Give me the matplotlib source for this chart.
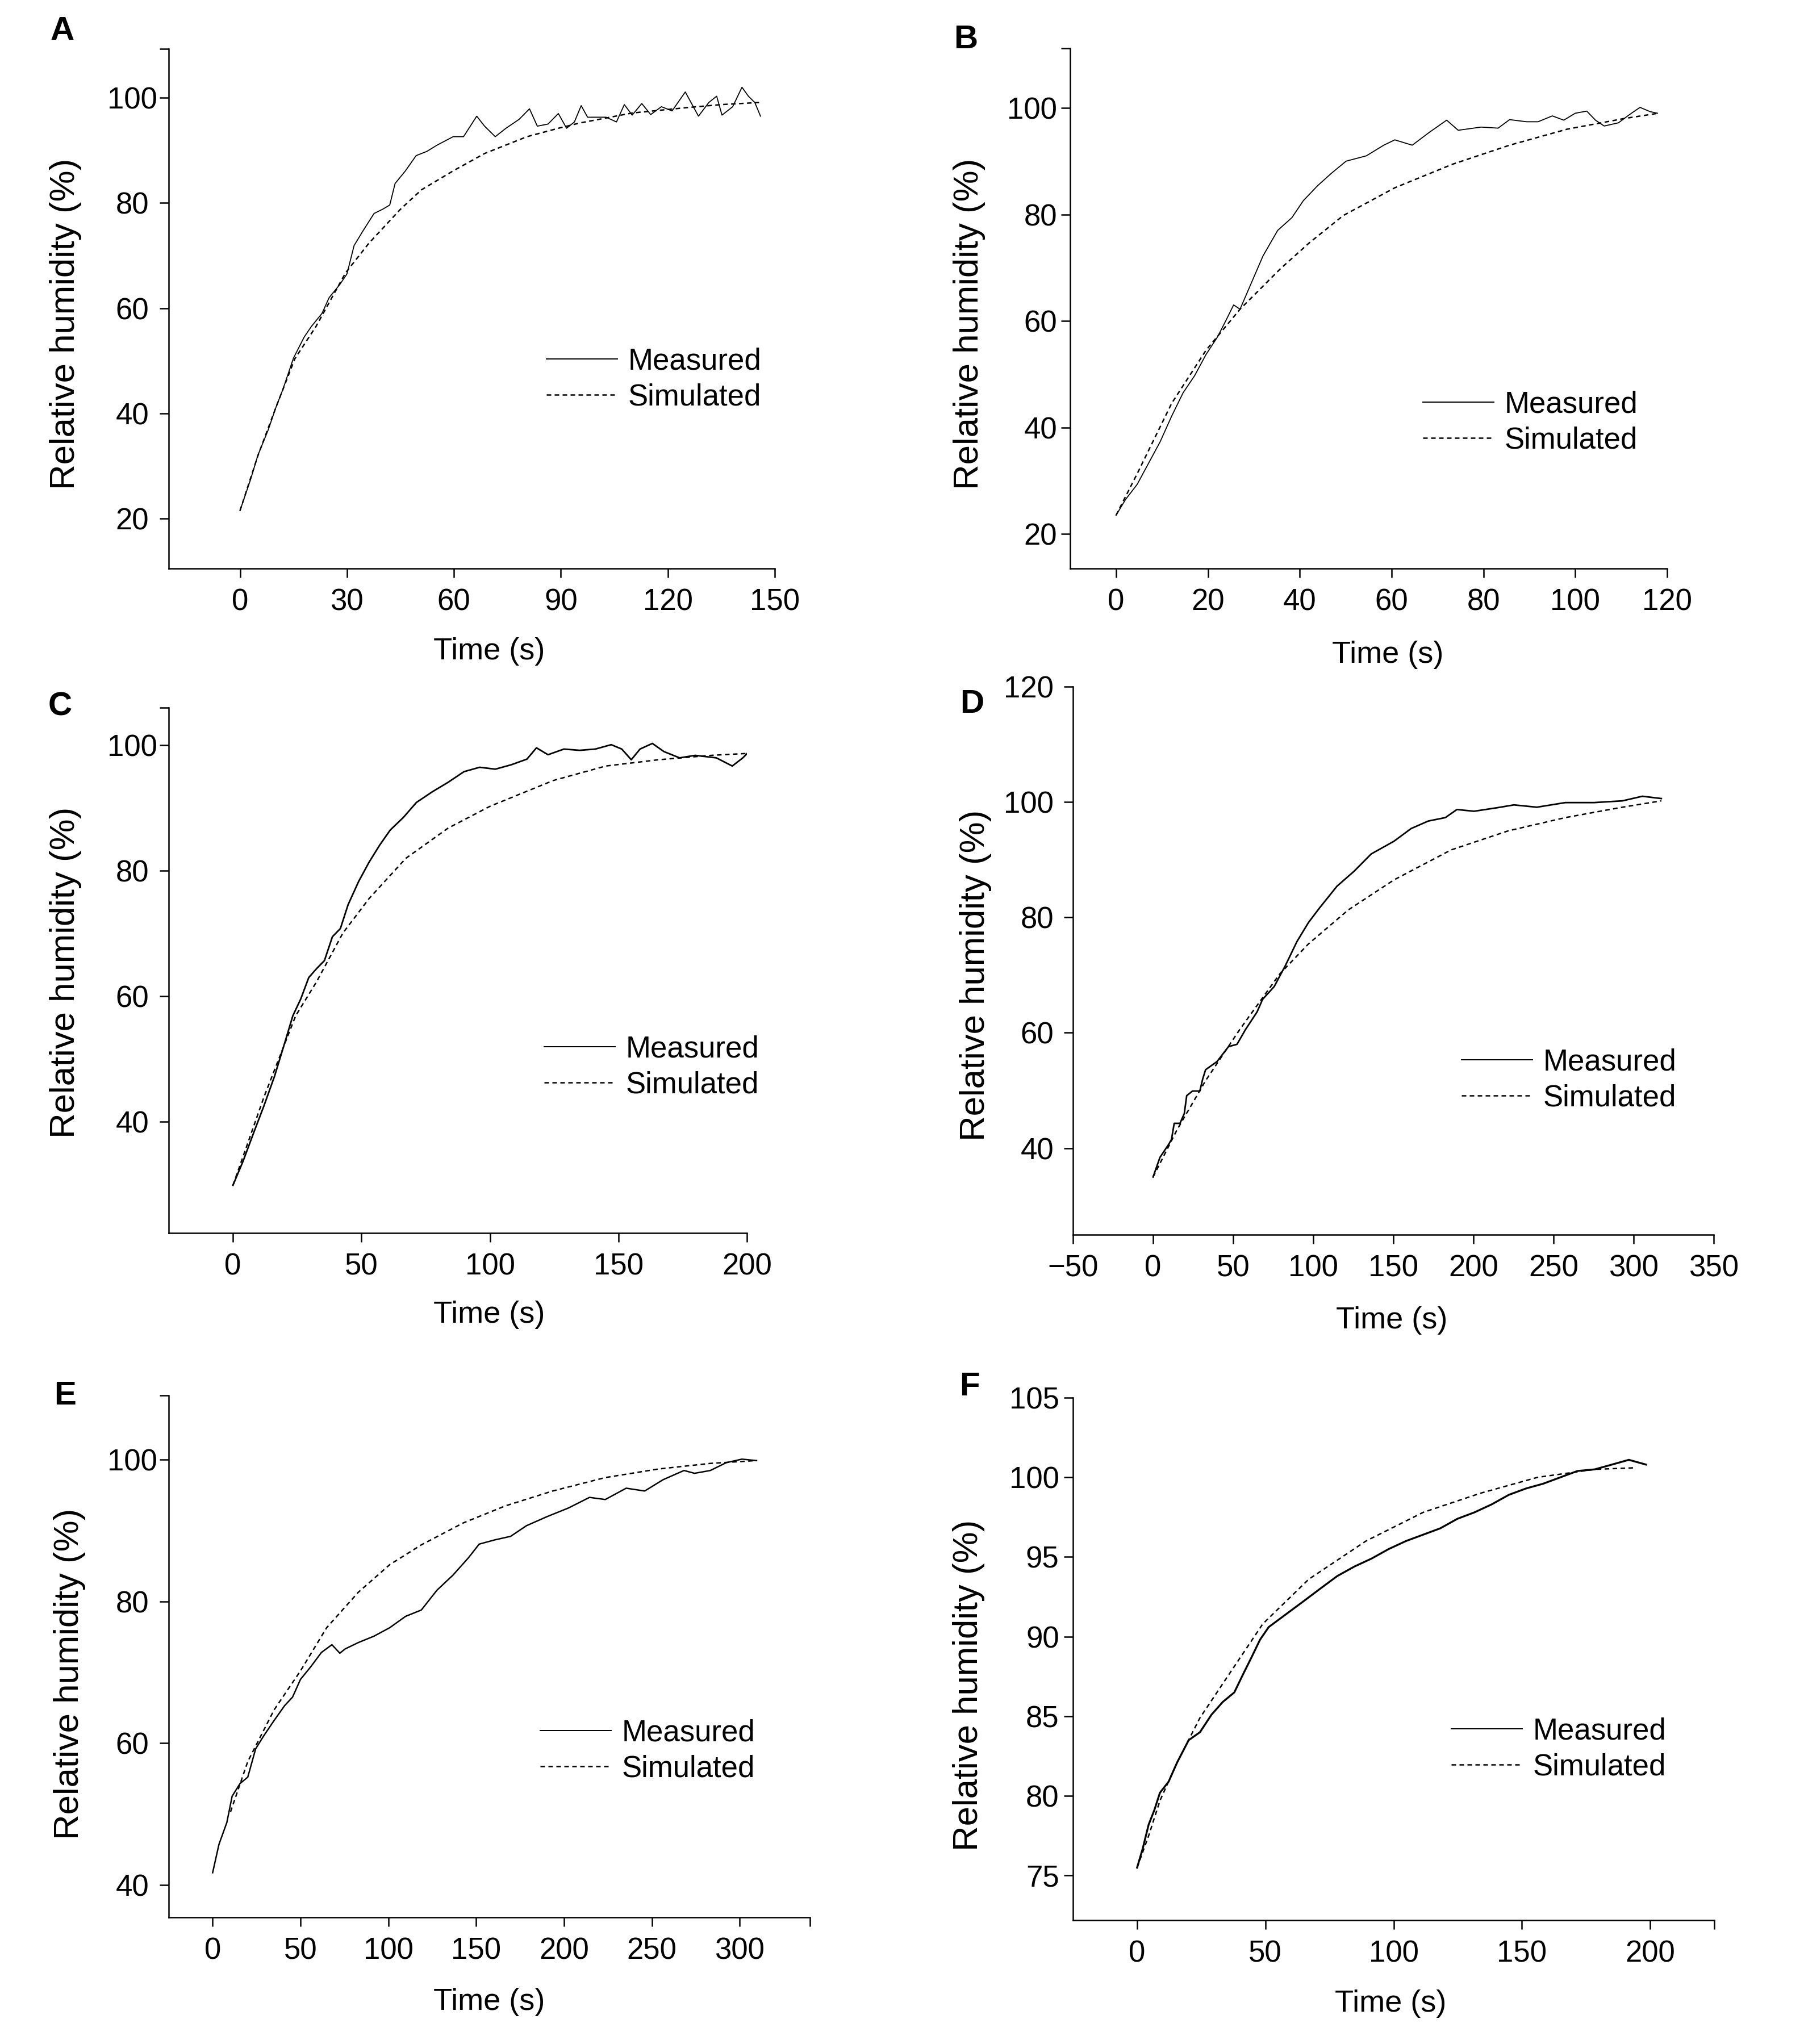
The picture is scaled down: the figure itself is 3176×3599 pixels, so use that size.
import matplotlib
matplotlib.use("Agg")
import matplotlib.pyplot as plt
from matplotlib.lines import Line2D

plt.rcParams['font.family'] = ['Liberation Sans', 'DejaVu Sans']

W, H = 3176, 3599
DPI = 100

# ---- panel A ----
t_a_meas = [0, 3, 5, 8, 10, 12, 15, 18, 20, 23, 25, 28, 30, 32, 34.6, 37.6, 40, 42,
            43.5, 46.4, 49.4, 52.4, 55.3, 59.8, 62.7, 66.4, 68.6, 71.6, 74.6, 78.3,
            81.2, 83.4, 86.4, 89.3, 91.6, 93.8, 95.7, 97.5, 102.7, 105.6, 107.8, 110,
            112.7, 115.2, 118.2, 121.2, 124.9, 128.6, 131.5, 133.7, 135.2, 138.2,
            140.8, 142.6, 144.4, 146]
rh_a_meas = [21.5, 27.5, 32, 37, 41, 44.5, 50.5, 54.5, 56.5, 59, 62, 64.5, 66.5, 71.9,
             74.8, 78, 78.8, 79.6, 83.7, 86.1, 89, 89.8, 91, 92.6, 92.6, 96.5, 94.6,
             92.6, 94.2, 95.9, 97.9, 94.6, 95, 97, 94.2, 95.4, 98.5, 96.3, 96.3, 95.4,
             98.7, 96.7, 98.9, 96.8, 98.3, 97.5, 101.1, 96.5, 99.1, 100.3, 96.7, 98.3,
             102, 100.3, 99.1, 96.5]
t_a_sim = [0, 5, 10, 15.4, 21.3, 29.6, 36.1, 45, 50.9, 59.8, 68.6, 80.5, 89.3, 95.3,
           110, 124.9, 135, 145.6]
rh_a_sim = [21.5, 31.9, 41, 50.4, 56.5, 66.7, 72.3, 78.8, 82.5, 86.1, 89.4, 92.6, 94.2,
            95.2, 97.1, 98.1, 98.7, 99.1]

# ---- panel B ----
t_b_meas = [0, 2.1, 4.6, 7.1, 9.6, 12.1, 14.6, 17.1, 19.6, 22.1, 24, 25.6, 27, 29.6,
            32, 35.2, 38.3, 40.8, 43.9, 47, 50.1, 54.5, 58.3, 60.7, 64.5, 68.2, 72,
            74.5, 79.5, 83.2, 85.7, 89.4, 91.9, 95, 97.5, 100, 102.5, 104.4, 106.3,
            109.4, 111.9, 114.1, 116.3, 117.9]
rh_b_meas = [23.5, 26.5, 29.3, 33.3, 37.3, 42.1, 46.5, 49.7, 53.7, 57, 60.2, 63, 62.2,
             67.4, 72.2, 77, 79.4, 82.6, 85.4, 87.8, 90, 91, 93, 94, 93, 95.4, 97.7,
             95.8, 96.4, 96.2, 97.8, 97.4, 97.4, 98.5, 97.7, 99, 99.4, 97.7, 96.6,
             97.2, 98.8, 100.1, 99.3, 99]
t_b_sim = [0, 4.6, 12.1, 19.6, 27, 35.8, 42, 49.5, 60.7, 73.2, 85.7, 98.2, 110.6, 118.1]
rh_b_sim = [23.5, 31.3, 44.5, 54.5, 62.2, 69.8, 74.6, 79.8, 85, 89.4, 93, 96, 98, 99]

# ---- panel C ----
t_c_meas = [0, 3.9, 8, 12.1, 16.2, 20.3, 23.3, 26.4, 29.5, 32.5, 35.6, 38.7, 41.8,
            44.8, 48.9, 53, 57.1, 61.2, 66.3, 71.4, 77.6, 83.7, 89.9, 96, 102.1, 108.3,
            114.4, 118.1, 122.6, 128.8, 134.9, 141, 147.2, 151.3, 155, 158.4, 163.2,
            167.7, 173.8, 179.9, 188.1, 194.3, 198.4, 202.5, 205.2]
rh_c_meas = [29.9, 33.7, 38.2, 42.6, 47.3, 52.8, 56.9, 59.6, 63, 64.4, 65.7, 69.5, 70.8,
             74.6, 78.3, 81.4, 84.1, 86.5, 88.5, 90.9, 92.6, 94.1, 95.8, 96.5, 96.2,
             96.9, 97.8, 99.6, 98.5, 99.4, 99.2, 99.4, 100.1, 99.4, 97.7, 99.4, 100.3,
             99, 98, 98.4, 98, 96.7, 98, 99.7, 98.9]
t_c_sim = [0, 12.1, 24.4, 32.5, 42.8, 53, 67.3, 83.7, 100.1, 124.7, 145.1, 165.6, 186.1,
           204.5]
rh_c_sim = [29.9, 44, 56.9, 62.3, 70.1, 75.6, 82, 86.8, 90.3, 94.4, 96.7, 97.7, 98.4,
            98.8]

# ---- panel D ----
t_d_meas = [0, 4.3, 9.6, 11.5, 13.2, 16.8, 19.5, 21, 24.6, 29.2, 31, 32.8, 39.9, 47.1,
            52.4, 57.8, 64.9, 68.4, 75.6, 82.7, 89.8, 97, 104.1, 114.8, 125.5, 136.2,
            150.4, 161.1, 171.8, 182.5, 189.7, 200.4, 214.6, 225.3, 239.6, 257.4,
            275.2, 293, 305.5, 317.3]
rh_d_meas = [35, 38.4, 40.6, 41.5, 44.3, 44.3, 46, 49.1, 49.9, 49.9, 52, 53.6, 55, 57.6,
             58, 60.6, 63.6, 65.8, 68, 71.7, 75.8, 79.1, 81.7, 85.4, 88, 91, 93.2, 95.4,
             96.7, 97.3, 98.7, 98.4, 99, 99.5, 99.1, 99.9, 99.9, 100.2, 101, 100.6]
t_d_sim = [0, 15, 32.8, 54.2, 79.1, 97, 121.9, 150.4, 186.1, 221.7, 257.4, 293, 317.3]
rh_d_sim = [35, 43.2, 51.7, 60.6, 70.2, 75.4, 81.3, 86.5, 91.7, 95, 97.3, 99.1, 100.2]

# ---- panel E ----
t_e_meas = [0, 3.6, 8.1, 11.1, 15.6, 20, 24.5, 29, 35, 41, 45.5, 50, 55.9, 61.9, 67.9,
            72.4, 75.4, 82.9, 91.8, 100.8, 109.8, 118.8, 127.7, 136.7, 145.7, 151.7,
            160.6, 169.6, 178.6, 190.5, 202.5, 214.5, 223.5, 235.4, 245.9, 256.4,
            268.3, 274.3, 283.3, 292.3, 301.2, 309.6]
rh_e_meas = [41.7, 45.7, 48.8, 52.5, 54.3, 55.2, 59.2, 61, 63.2, 65.3, 66.5, 69, 70.8,
             72.8, 73.9, 72.7, 73.3, 74.2, 75.1, 76.3, 77.9, 78.8, 81.6, 83.7, 86.2,
             88.1, 88.7, 89.2, 90.7, 92, 93.2, 94.7, 94.4, 96, 95.6, 97.2, 98.5, 98.1,
             98.5, 99.6, 100.1, 99.9]
t_e_sim = [10.2, 20, 35, 50, 64.9, 82.9, 100.8, 118.8, 142.7, 166.6, 193.5, 223.5,
           253.4, 283.3, 309.6]
rh_e_sim = [50.3, 57.4, 64.7, 70.2, 76.3, 81.3, 85.2, 88, 91.1, 93.5, 95.6, 97.5, 98.7,
            99.5, 99.9]

# ---- panel F ----
t_f_meas = [0, 2.2, 4.5, 6.7, 8.9, 12.3, 15.6, 20.1, 24.5, 29, 33.4, 37.9, 41.2, 44.6,
            47.9, 51.3, 58, 64.7, 71.3, 78, 84.7, 91.4, 98.1, 104.8, 111.5, 118.2,
            124.9, 131.5, 138.2, 144.9, 151.6, 158.3, 165, 171.7, 178.4, 185.1, 191.7,
            198.4]
rh_f_meas = [75.5, 76.7, 78.2, 79.1, 80.2, 80.9, 82.1, 83.5, 84, 85.1, 85.9, 86.5, 87.6,
             88.7, 89.8, 90.6, 91.4, 92.2, 93, 93.8, 94.4, 94.9, 95.5, 96, 96.4, 96.8,
             97.4, 97.8, 98.3, 98.9, 99.3, 99.6, 100, 100.4, 100.5, 100.8, 101.1, 100.8]
t_f_sim = [0, 4.5, 8.9, 15.6, 24.5, 35.7, 49, 66.9, 89.2, 111.5, 133.8, 156.1, 178.4, 194]
rh_f_sim = [75.5, 77.5, 79.7, 82.1, 84.9, 87.6, 90.8, 93.6, 96, 97.8, 99, 100, 100.5,
            100.6]

# axis ranges and ticks
x_ticks = {
    "A": [0, 30, 60, 90, 120, 150],
    "B": [0, 20, 40, 60, 80, 100, 120],
    "C": [0, 50, 100, 150, 200],
    "D": [-50, 0, 50, 100, 150, 200, 250, 300, 350],
    "E": [0, 50, 100, 150, 200, 250, 300],
    "F": [0, 50, 100, 150, 200],
}
y_ticks = {
    "A": [20, 40, 60, 80, 100],
    "B": [20, 40, 60, 80, 100],
    "C": [40, 60, 80, 100],
    "D": [40, 60, 80, 100, 120],
    "E": [40, 60, 80, 100],
    "F": [75, 80, 85, 90, 95, 100, 105],
}
x_lims = {"A": (-20, 150), "B": (-10, 120), "C": (-25, 200),
          "D": (-50, 350), "E": (-25, 340), "F": (-25, 225)}
y_lims = {"A": (10.5, 109.3), "B": (13.5, 111.2), "C": (22.3, 106),
          "D": (25, 120), "E": (35.4, 109.1), "F": (72.2, 105)}

SIM_STYLE = (0, (3.2, 2.4))
FS = 38


def fx(px):
    return px / W


def fy(py):
    return 1 - py / H


def tick_text(v):
    # long minus sign as in the original figure
    return f"{v:g}".replace("-", "\u2212")


fig = plt.figure(figsize=(W / DPI, H / DPI), dpi=DPI)


def make_panel(letter, box, t_meas, rh_meas, t_sim, rh_sim, meas_lw,
               ylab_xy, xlab_xy, leg_xy, letter_xy, centered, ypad):
    left, top, right, bottom = box
    ax = fig.add_axes([fx(left), fy(bottom), (right - left) / W, (bottom - top) / H])

    ax.plot(t_meas, rh_meas, color="black", lw=meas_lw, solid_joinstyle="round")
    ax.plot(t_sim, rh_sim, color="black", lw=1.8, linestyle=SIM_STYLE)

    xlim = x_lims[letter]
    ylim = y_lims[letter]
    ax.set_xlim(*xlim)
    ax.set_ylim(*ylim)

    # tick at the far end of an axis is drawn but not labelled
    xt = list(x_ticks[letter])
    xl = [tick_text(v) for v in xt]
    if xt[-1] < xlim[1]:
        xt.append(xlim[1])
        xl.append("")
    yt = list(y_ticks[letter])
    yl = [tick_text(v) for v in yt]
    if yt[-1] < ylim[1]:
        yt.append(ylim[1])
        yl.append("")
    ax.set_xticks(xt)
    ax.set_xticklabels(xl)
    ax.set_yticks(yt)
    ax.set_yticklabels(yl)

    for s in ["top", "right"]:
        ax.spines[s].set_visible(False)
    for s in ["left", "bottom"]:
        ax.spines[s].set_linewidth(1.8)

    ax.tick_params(direction="out", length=11.5, width=1.8, labelsize=FS)
    ax.tick_params(axis="x", pad=13)
    ax.tick_params(axis="y", pad=ypad)
    if centered:
        for lab in ax.get_yticklabels():
            lab.set_horizontalalignment("center")

    ax.set_ylabel("Relative humidity (%)", fontsize=44.5)
    ax.set_xlabel("Time (s)", fontsize=39)
    ax.yaxis.set_label_coords(fx(ylab_xy[0] + 30), fy(ylab_xy[1]),
                              transform=fig.transFigure)
    ax.xaxis.set_label_coords(fx(xlab_xy[0]), fy(xlab_xy[1] - 18),
                              transform=fig.transFigure)

    handles = [
        Line2D([], [], color="black", lw=1.4),
        Line2D([], [], color="black", lw=1.8, linestyle=SIM_STYLE),
    ]
    ax.legend(handles, ["Measured", "Simulated"], loc="center left",
              bbox_to_anchor=(fx(leg_xy[0]), fy(leg_xy[1])),
              bbox_transform=fig.transFigure, frameon=False, borderpad=0,
              borderaxespad=0, handlelength=2.37, handletextpad=0.35,
              labelspacing=0.25, fontsize=FS)

    fig.text(fx(letter_xy[0]), fy(letter_xy[1]), letter, fontsize=42,
             fontweight="bold", ha="center", va="center")
    return ax


make_panel("A", (297, 86, 1364, 1001), t_a_meas, rh_a_meas, t_a_sim, rh_a_sim, 1.3,
           (114, 570), (861, 1140), (962, 668), (110, 55), True, 34.5)
make_panel("B", (1884, 85, 2935, 1001), t_b_meas, rh_b_meas, t_b_sim, rh_b_sim, 1.3,
           (1705, 570), (2443, 1146), (2505, 744), (1700, 70), False, 5)
make_panel("C", (297, 1246, 1315, 2171), t_c_meas, rh_c_meas, t_c_sim, rh_c_sim, 2.0,
           (114, 1712), (861, 2308), (958, 1879), (106, 1245), True, 34.5)
make_panel("D", (1889, 1209, 3017, 2174), t_d_meas, rh_d_meas, t_d_sim, rh_d_sim, 2.0,
           (1716, 1717), (2450, 2318), (2573, 1902), (1711, 1240), False, 13)
make_panel("E", (297, 2457, 1426, 3376), t_e_meas, rh_e_meas, t_e_sim, rh_e_sim, 1.8,
           (121, 2947), (861, 3518), (951, 3083), (115, 2458), True, 34.5)
make_panel("F", (1889, 2461, 3018, 3381), t_f_meas, rh_f_meas, t_f_sim, rh_f_sim, 2.4,
           (1704, 2967), (2448, 3521), (2555, 3080), (1707, 2442), False, 6)

fig.savefig("out.png", dpi=DPI, facecolor="white")
